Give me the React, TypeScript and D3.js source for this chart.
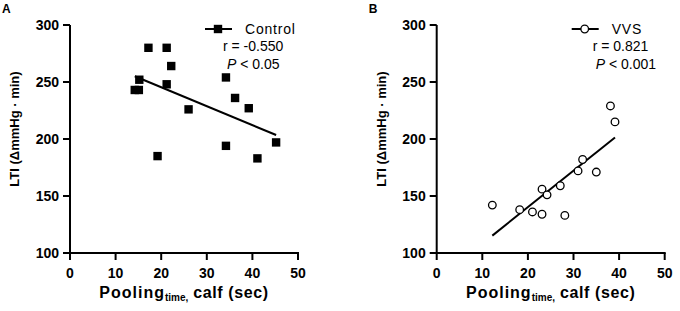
import React from "react";
import * as d3 from "d3";

const xTicks = [0, 10, 20, 30, 40, 50];
const yTicks = [100, 150, 200, 250, 300];

const controlX = [14.2, 15.1, 15.2, 17.2, 21.2, 21.2, 22.2, 26.0, 19.2, 34.2, 34.2, 36.2, 39.2, 41.1, 45.2];
const controlY = [243, 243, 252, 280, 280, 248, 264, 226, 185, 254, 194, 236, 227, 183, 197];

const vvsX = [12.2, 18.2, 21.0, 23.1, 23.1, 24.2, 27.1, 28.1, 31.0, 32.0, 35.0, 38.1, 39.1];
const vvsY = [142, 138, 136, 134, 156, 151, 159, 133, 172, 182, 171, 229, 215];

const FONT = "Arial, 'Liberation Sans', sans-serif";

function fit(xs: number[], ys: number[]) {
  const mx = d3.mean(xs)!;
  const my = d3.mean(ys)!;
  let sxy = 0, sxx = 0;
  xs.forEach((x, i) => {
    sxy += (x - mx) * (ys[i] - my);
    sxx += (x - mx) * (x - mx);
  });
  const slope = sxy / sxx;
  const b = my - slope * mx;
  const [x0, x1] = d3.extent(xs) as [number, number];
  return [
    [x0, b + slope * x0],
    [x1, b + slope * x1],
  ];
}

type PanelProps = {
  ox: number;
  label: string;
  xs: number[];
  ys: number[];
  name: string;
  rText: string;
  pText: string;
  marker: "square" | "circle";
};

function Marker({ cx, cy, kind }: { cx: number; cy: number; kind: string }) {
  if (kind === "square")
    return <rect x={cx - 4.2} y={cy - 4.2} width={8.4} height={8.4} fill="#000" />;
  return <circle cx={cx} cy={cy} r={3.8} fill="#fff" stroke="#000" strokeWidth={1.3} />;
}

function Panel({ ox, label, xs, ys, name, rText, pText, marker }: PanelProps) {
  const x = d3.scaleLinear().domain([0, 50]).range([ox + 70, ox + 298]);
  const y = d3.scaleLinear().domain([100, 300]).range([253, 25]);
  const line = d3.line<number[]>().x((d) => x(d[0])).y((d) => y(d[1]));
  const reg = fit(xs, ys);
  const lx = ox + 218;
  const ly = 29;
  return (
    <g fontFamily={FONT}>
      <text x={ox + 2} y={13} fontSize={12} fontWeight="bold">{label}</text>
      {/* axes */}
      <line x1={x(0)} x2={x(0)} y1={y(300)} y2={y(100) + 1} stroke="#000" strokeWidth={2} />
      <line x1={x(0) - 1} x2={x(50) + 1} y1={y(100)} y2={y(100)} stroke="#000" strokeWidth={2} />
      {yTicks.map((t) => (
        <g key={"y" + t}>
          <line x1={x(0) - 7} x2={x(0)} y1={y(t)} y2={y(t)} stroke="#000" strokeWidth={2} />
          <text x={x(0) - 11} y={y(t) + 5} textAnchor="end" fontSize={14} fontWeight="bold">{t}</text>
        </g>
      ))}
      {xTicks.map((t) => (
        <g key={"x" + t}>
          <line x1={x(t)} x2={x(t)} y1={y(100)} y2={y(100) + 7} stroke="#000" strokeWidth={2} />
          <text x={x(t)} y={278} textAnchor="middle" fontSize={14} fontWeight="bold">{t}</text>
        </g>
      ))}
      {/* axis titles */}
      <text
        transform={`translate(${ox + 19},129) rotate(-90)`}
        textAnchor="middle"
        fontSize={13}
        fontWeight="bold"
      >
        LTI (ΔmmHg · min)
      </text>
      <text x={ox + 184} y={298} textAnchor="middle" fontSize={16} fontWeight="bold">
        <tspan letterSpacing={1}>Pooling</tspan>
        <tspan fontSize={10} dy={3}>time,</tspan>
        <tspan dy={-3} letterSpacing={0.6}> calf (sec)</tspan>
      </text>
      {/* regression */}
      <path d={line(reg) || ""} fill="none" stroke="#000" strokeWidth={2} />
      {xs.map((v, i) => (
        <Marker key={i} cx={x(v)} cy={y(ys[i])} kind={marker} />
      ))}
      {/* legend */}
      <line x1={lx - 13} x2={lx + 14} y1={ly} y2={ly} stroke="#000" strokeWidth={2} />
      <Marker cx={lx} cy={ly} kind={marker} />
      <text x={lx + 27} y={34} fontSize={14} letterSpacing={0.8}>{name}</text>
      <text x={ox + (marker === "square" ? 223 : 592)  - (marker === "square" ? 0 : 366)} y={51} fontSize={14}>{rText}</text>
      <text x={ox + (marker === "square" ? 227 : 595) - (marker === "square" ? 0 : 366)} y={68.5} fontSize={14}>
        <tspan fontStyle="italic">P</tspan> &lt; {pText}
      </text>
    </g>
  );
}

export default function App() {
  return (
    <svg
      width={680}
      height={311}
      style={{ position: "absolute", left: 0, top: 0, background: "#fff" }}
    >
      <rect width={680} height={311} fill="#fff" />
      <Panel ox={0} label="A" xs={controlX} ys={controlY} name="Control" rText="r = -0.550" pText="0.05" marker="square" />
      <Panel ox={366.7} label="B" xs={vvsX} ys={vvsY} name="VVS" rText="r = 0.821" pText="0.001" marker="circle" />
    </svg>
  );
}
